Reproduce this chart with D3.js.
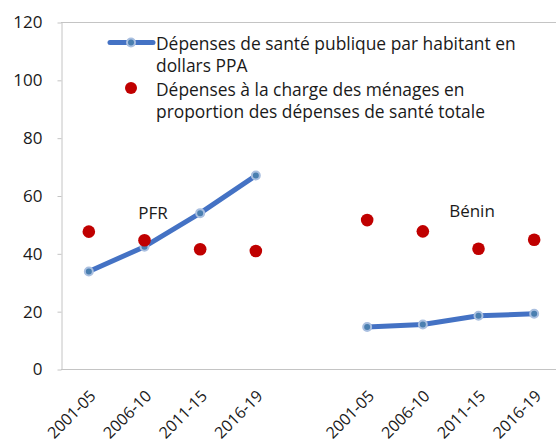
<!DOCTYPE html>
<html>
<head>
<meta charset="utf-8">
<script src="https://cdn.jsdelivr.net/npm/d3@7"></script>
<style>
  body { margin: 0; background: #fff; }
  svg { display: block; }
  text { font-family: "Open Sans", "Noto Sans", sans-serif; fill: #1a1a1a; }
</style>
</head>
<body>
<svg id="chart" width="556" height="443"></svg>
<script>
'use strict';

// data
var periods = ['2001-05', '2006-10', '2011-15', '2016-19'];
var groups = ['PFR', 'Bénin'];
var pfrPublic = [33.7, 42.3, 53.9, 66.9];
var beninPublic = [14.5, 15.4, 18.4, 19.1];
var pfrMenages = [47.5, 44.5, 41.4, 40.8];
var beninMenages = [51.5, 47.6, 41.6, 44.7];
var yTicks = [0, 20, 40, 60, 80, 100, 120];
var legendLabels = [
  ['Dépenses de santé publique par habitant en', 'dollars PPA'],
  ['Dépenses à la charge des ménages en', 'proportion des dépenses de santé totale']
];

var width = 556,
  height = 443,
  margin = { top: 22, right: -6, bottom: 74, left: 61 };

var svg = d3.select('#chart');

// one band per period and group, with an empty band between the groups
var keys = [];
groups.forEach(function (g, gi) {
  if (gi > 0) keys.push('gap' + gi);
  periods.forEach(function (p) { keys.push(g + '|' + p); });
});

var x = d3.scaleBand()
  .domain(keys)
  .range([margin.left, width - margin.right]);

var y = d3.scaleLinear()
  .domain([0, 120])
  .range([height - margin.bottom, margin.top]);

var cx = function (g, p) { return x(g + '|' + p) + x.bandwidth() / 2; };

// frame: top border and bottom axis
svg.append('line')
  .attr('x1', margin.left).attr('x2', width)
  .attr('y1', y(120) + 0.5).attr('y2', y(120) + 0.5)
  .attr('stroke', '#c4c4c4');

svg.append('line')
  .attr('x1', margin.left).attr('x2', width)
  .attr('y1', y(0) + 0.5).attr('y2', y(0) + 0.5)
  .attr('stroke', '#c4c4c4');

var yAxis = svg.append('g')
  .attr('transform', 'translate(' + (margin.left + 0.5) + ',0.5)')
  .call(d3.axisLeft(y).tickValues(yTicks).tickSize(4).tickSizeOuter(0).tickPadding(15));

yAxis.selectAll('line, path').attr('stroke', '#c4c4c4');
yAxis.selectAll('text')
  .style('font-size', '17px')
  .style('font-family', '"Open Sans", sans-serif')
  .attr('fill', '#1a1a1a');

// rotated period labels
var labelData = [];
groups.forEach(function (g) {
  periods.forEach(function (p) { labelData.push({ g: g, p: p }); });
});

svg.append('g').selectAll('text')
  .data(labelData)
  .enter().append('text')
  .attr('text-anchor', 'end')
  .attr('transform', function (d) {
    return 'translate(' + (cx(d.g, d.p) + 8) + ',' + (y(0) + 28) + ') rotate(-45)';
  })
  .style('font-size', '16px')
  .text(function (d) { return d.p; });

// public spending lines
var line = d3.line()
  .x(function (d) { return cx(d.g, d.p); })
  .y(function (d) { return y(d.v); });

var series = [
  { g: 'PFR', values: pfrPublic, dots: pfrMenages },
  { g: 'Bénin', values: beninPublic, dots: beninMenages }
];

series.forEach(function (s) {
  var pts = periods.map(function (p, i) { return { g: s.g, p: p, v: s.values[i] }; });
  var dots = periods.map(function (p, i) { return { g: s.g, p: p, v: s.dots[i] }; });

  svg.append('path')
    .datum(pts)
    .attr('d', line)
    .attr('fill', 'none')
    .attr('stroke', '#4472c4')
    .attr('stroke-width', 5)
    .attr('stroke-linejoin', 'round');

  svg.append('g').selectAll('circle')
    .data(pts)
    .enter().append('circle')
    .attr('cx', function (d) { return cx(d.g, d.p); })
    .attr('cy', function (d) { return y(d.v); })
    .attr('r', 4)
    .attr('fill', '#4a7fb0')
    .attr('stroke', '#a9bfe0')
    .attr('stroke-width', 2);

  svg.append('g').selectAll('circle')
    .data(dots)
    .enter().append('circle')
    .attr('cx', function (d) { return cx(d.g, d.p); })
    .attr('cy', function (d) { return y(d.v); })
    .attr('r', 6.3)
    .attr('fill', '#c00000');
});

// group labels
svg.append('text')
  .attr('x', 153).attr('y', 219)
  .attr('text-anchor', 'middle')
  .style('font-size', '17px')
  .text(groups[0]);

svg.append('text')
  .attr('x', 472).attr('y', 217)
  .attr('text-anchor', 'middle')
  .style('font-size', '17px')
  .text(groups[1]);

// legend
var legend = svg.append('g');

legend.append('line')
  .attr('x1', 110).attr('x2', 153)
  .attr('y1', 42.5).attr('y2', 42.5)
  .attr('stroke', '#4472c4')
  .attr('stroke-width', 5)
  .attr('stroke-linecap', 'round');

legend.append('circle')
  .attr('cx', 131).attr('cy', 42.5).attr('r', 4)
  .attr('fill', '#4a7fb0')
  .attr('stroke', '#a9bfe0')
  .attr('stroke-width', 2);

legend.append('circle')
  .attr('cx', 131).attr('cy', 88).attr('r', 6)
  .attr('fill', '#c00000');

legendLabels.forEach(function (lines, i) {
  lines.forEach(function (t, j) {
    legend.append('text')
      .attr('x', 156)
      .attr('y', 49.5 + i * 46 + j * 22.5)
      .style('font-size', '17.4px')
      .text(t);
  });
});
</script>
</body>
</html>
